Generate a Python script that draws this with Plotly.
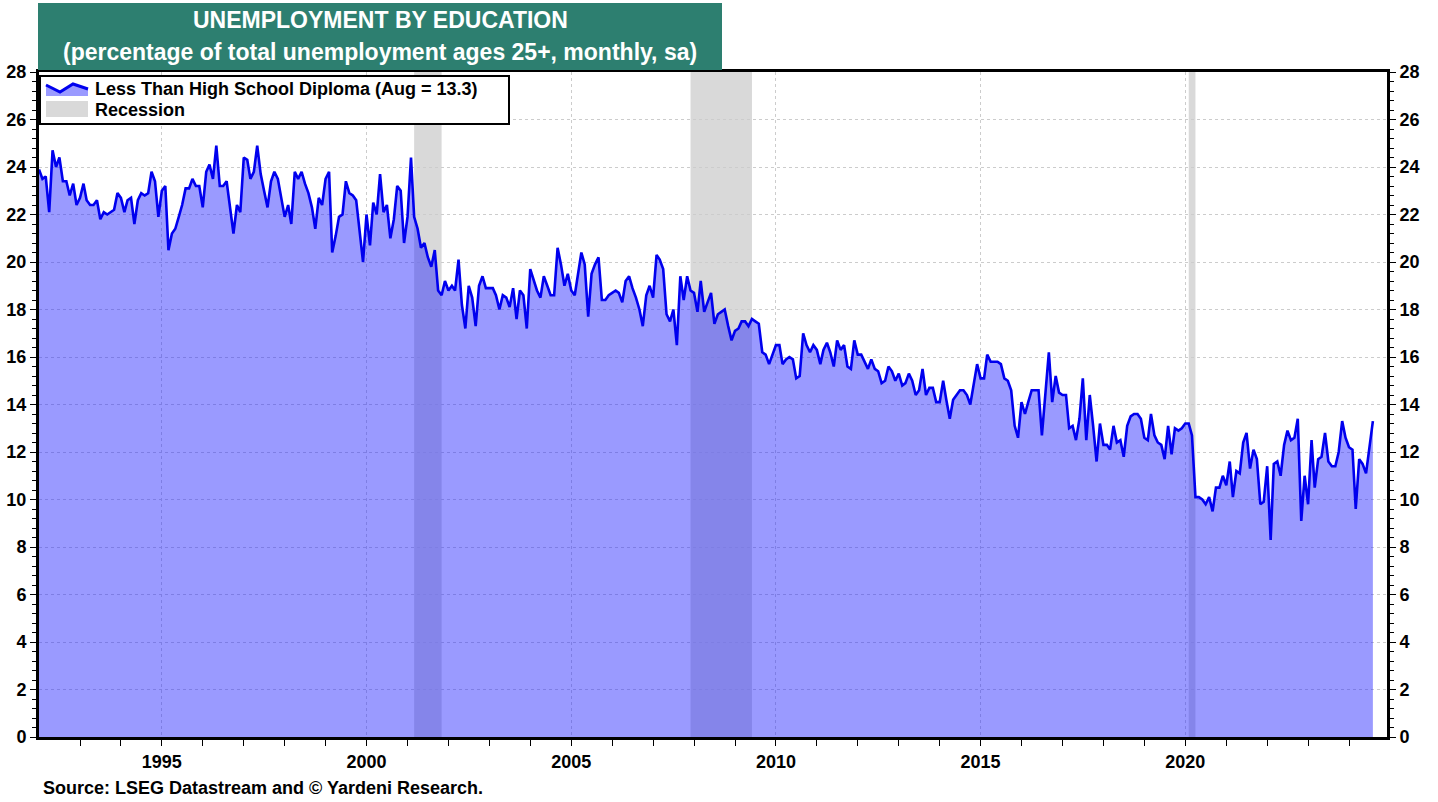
import pandas as pd
import plotly.graph_objects as go

# Less than high school diploma share of unemployment (%), monthly from Jan 1992 to Aug 2024
values = [
    23.9, 23.5, 23.6, 22.1, 24.7, 24.0, 24.4, 23.4, 23.4, 22.8,
    23.3, 22.4, 22.7, 23.3, 22.6, 22.4, 22.4, 22.6, 21.8, 22.1,
    22.0, 22.1, 22.2, 22.9, 22.7, 22.1, 22.6, 22.7, 21.6, 22.6,
    22.9, 22.8, 22.9, 23.8, 23.4, 21.9, 23.0, 23.2, 20.5, 21.2,
    21.4, 21.9, 22.4, 23.1, 23.1, 23.5, 23.2, 23.2, 22.3, 23.8,
    24.1,
    23.5, 24.9, 23.2, 23.2, 23.4, 22.2, 21.2, 22.4, 22.1, 24.4,
    24.3, 23.5, 23.8, 24.9, 23.7, 23.0, 22.3, 23.4, 23.8, 23.5,
    22.7, 21.9, 22.4, 21.6, 23.8, 23.5, 23.8, 23.3, 22.9, 22.3,
    21.4, 22.7, 22.4, 23.5, 23.8, 20.4, 21.1, 21.9, 22.0, 23.4,
    22.9, 22.8, 22.6, 21.4, 20.0, 22.0, 20.7, 22.5, 22.0, 23.7,
    22.1, 22.4, 21.0, 21.8, 23.2, 23.0, 20.8, 21.9, 24.4, 21.9,
    21.4, 20.6, 20.8, 20.2, 19.8, 20.5, 18.8, 18.6, 19.2, 18.8,
    19.0, 18.8, 20.1, 18.2, 17.2, 19.0, 18.5, 17.3, 19.0, 19.4,
    18.9, 18.9, 18.9, 18.6, 18.0, 18.6, 18.5, 18.1, 18.9, 17.6,
    18.8, 18.6, 17.2, 19.7, 19.2, 18.8, 18.5, 19.4,
    19.0, 18.6, 18.6, 20.6, 19.9, 19.0, 19.5, 18.8, 18.6, 19.4,
    20.4, 19.9, 17.7, 19.5, 19.9, 20.2, 18.4, 18.4, 18.6, 18.7,
    18.8, 18.7, 18.3, 19.2, 19.4, 18.9, 18.5, 18.0, 17.3, 18.6,
    19.0, 18.5, 20.3, 20.1, 19.7, 17.8, 17.5, 18.0, 16.5, 19.4,
    18.4, 19.4, 18.8, 18.7, 17.9, 19.2, 17.9, 18.3, 18.7,
    17.4, 17.8, 17.9, 18.0, 17.3, 16.7, 17.1, 17.2, 17.5, 17.5,
    17.3, 17.6, 17.5, 17.4, 16.2, 16.1, 15.7, 16.1, 16.5, 16.5,
    15.7, 15.9, 16.0, 15.9, 15.1, 15.2, 17.0, 16.5, 16.2, 16.5,
    16.3, 15.7, 16.3, 16.6, 16.2, 15.6, 16.7, 16.3, 16.5, 15.6,
    15.5, 16.7, 16.1, 16.1, 15.8, 15.5, 15.9, 15.5, 15.4, 14.9,
    15.0, 15.6, 15.4, 15.0, 15.3, 14.8, 14.9, 15.3, 15.0, 14.4,
    14.6, 15.5, 14.4, 14.7, 14.7, 14.1, 14.1, 15.0, 14.2, 13.4,
    14.2, 14.4, 14.6, 14.6, 14.4, 14.0, 14.8, 15.7, 15.1, 15.1,
    16.1, 15.8, 15.8, 15.8, 15.7, 15.1, 15.0, 14.6, 13.1, 12.6,
    14.1, 13.6, 14.1, 14.6, 14.6, 14.6, 12.7,
    14.3, 16.2, 14.1, 15.2, 14.5, 14.4, 14.4, 13.0, 13.1, 12.5,
    13.4, 15.1, 12.5, 14.4, 13.1, 11.6, 13.2, 12.3, 12.3, 12.1,
    13.1, 12.4, 12.5, 11.8, 13.1, 13.5, 13.6, 13.6, 13.4, 12.6,
    12.5, 13.6, 12.7, 12.4, 12.3, 11.7, 13.1, 11.9,
    13.0, 12.9, 13.0, 13.2, 13.2, 12.7, 10.1, 10.1, 10.0, 9.8,
    10.1, 9.5, 10.5, 10.5, 11.0, 10.6, 11.6, 10.1, 11.2, 11.1,
    12.4, 12.8, 11.3, 12.1, 11.7, 9.8, 9.9, 11.4, 8.3, 11.5,
    11.6, 11.0, 12.3, 12.9, 12.5, 12.6, 13.4, 9.1, 11.0, 9.8,
    12.5, 10.5, 11.7, 11.8, 12.8, 11.6, 11.4, 11.4, 12.0, 13.3,
    12.6, 12.2, 12.1, 9.6, 11.7, 11.5, 11.1, 12.2, 13.3,
]
start_month = "1992-01-01"
dates = pd.date_range(start_month, periods=len(values), freq="MS")

recession_starts = ["2001-03-01", "2007-12-01", "2020-02-01"]
recession_ends = ["2001-11-01", "2009-06-01", "2020-04-01"]

label_years = [1995, 2000, 2005, 2010, 2015, 2020]
minor_years = list(range(1993, 2025))
y_ticks = list(range(0, 29, 2))

series_name = "Less Than High School Diploma (Aug = 13.3)"
recession_name = "Recession"
title_line1 = "UNEMPLOYMENT BY EDUCATION"
title_line2 = "(percentage of total unemployment ages 25+, monthly, sa)"
source_text = "Source: LSEG Datastream and © Yardeni Research."

FONT = "Arial, 'Liberation Sans', sans-serif"
LINE_COLOR = "#0000EE"
FILL_COLOR = "rgba(30,30,255,0.45)"
REC_COLOR = "#D9D9D9"
tickfont = dict(family=FONT, size=18, color="black", weight="bold")

W, H = 1438, 802
ML, MR, MT, MB = 39, 51, 72, 65
PW, PH = W - ML - MR, H - MT - MB


def px(x):
    return (x - ML) / PW


def py(y):
    return (H - MB - y) / PH


fig = go.Figure()
fig.add_trace(go.Scatter(
    x=dates, y=values, mode="lines", name=series_name, showlegend=False,
    line=dict(color=LINE_COLOR, width=2.6),
    fill="tozeroy", fillcolor=FILL_COLOR,
))
fig.add_trace(go.Scatter(
    x=[dates[0]], y=[0], yaxis="y2", mode="markers",
    marker=dict(opacity=0), showlegend=False, hoverinfo="skip",
))

for s, e in zip(recession_starts, recession_ends):
    fig.add_vrect(x0=s, x1=e, fillcolor=REC_COLOR, line_width=0,
                  layer="below", opacity=1)

grid = dict(showgrid=True, gridcolor="#CCCCCC", griddash="dot", gridwidth=1)
minor_y = dict(dtick=0.4, tick0=0, ticks="outside", ticklen=4,
               tickwidth=1, tickcolor="black", showgrid=False)

fig.update_layout(
    width=W, height=H,
    margin=dict(l=ML, r=MR, t=MT, b=MB),
    paper_bgcolor="white", plot_bgcolor="white",
    font=dict(family=FONT, color="black"),
    showlegend=False,
    xaxis=dict(
        type="date", range=["1992-01-01", "2024-12-05"],
        tickvals=[f"{y}-01-01" for y in label_years],
        ticktext=[str(y) for y in label_years],
        ticks="outside", ticklen=6, tickwidth=1, tickcolor="black",
        tickfont=tickfont, automargin=False,
        showline=True, linewidth=3, linecolor="black", mirror=True,
        minor=dict(tickvals=[f"{y}-01-01" for y in minor_years],
                   ticks="outside", ticklen=6, tickwidth=1, tickcolor="black",
                   showgrid=False),
        zeroline=False, **grid,
    ),
    yaxis=dict(
        range=[0, 28], tickvals=y_ticks,
        ticks="outside", ticklen=6, tickwidth=1, tickcolor="black",
        tickfont=tickfont, automargin=False,
        showline=True, linewidth=3, linecolor="black",
        minor=minor_y, zeroline=False, **grid,
    ),
    yaxis2=dict(
        range=[0, 28], tickvals=y_ticks, overlaying="y", side="right",
        ticks="outside", ticklen=6, tickwidth=1, tickcolor="black",
        tickfont=tickfont, showgrid=False, automargin=False,
        showline=True, linewidth=3, linecolor="black",
        minor=minor_y, zeroline=False,
    ),
)

# Title box
fig.add_shape(type="rect", xref="paper", yref="paper",
              x0=px(38), x1=px(722), y0=py(70), y1=py(3),
              fillcolor="#2D7F70", line_width=0, layer="above")
title_font = dict(family=FONT, size=23, color="white", weight="bold")
fig.add_annotation(xref="paper", yref="paper", x=px(380), y=py(20),
                   text=title_line1, showarrow=False, font=title_font,
                   xanchor="center", yanchor="middle")
fig.add_annotation(xref="paper", yref="paper", x=px(380), y=py(52),
                   text=title_line2, showarrow=False, font=title_font,
                   xanchor="center", yanchor="middle")

# Legend box (drawn manually to match the compact original)
fig.add_shape(type="rect", xref="paper", yref="paper",
              x0=px(40), x1=px(509), y0=py(124), y1=py(76),
              fillcolor="white", line=dict(color="black", width=2), layer="above")
sym = [(46, 85), (60, 92), (73, 84), (88, 89)]
fill_path = "M " + " L ".join(f"{px(a)},{py(b)}" for a, b in sym) + \
    f" L {px(88)},{py(96)} L {px(46)},{py(96)} Z"
fig.add_shape(type="path", xref="paper", yref="paper", path=fill_path,
              fillcolor=FILL_COLOR, line=dict(width=0), layer="above")
line_path = "M " + " L ".join(f"{px(a)},{py(b)}" for a, b in sym)
fig.add_shape(type="path", xref="paper", yref="paper", path=line_path,
              line=dict(color=LINE_COLOR, width=3), layer="above")
fig.add_shape(type="rect", xref="paper", yref="paper",
              x0=px(46), x1=px(88), y0=py(117), y1=py(101),
              fillcolor=REC_COLOR, line_width=0, layer="above")
leg_font = dict(family=FONT, size=18, color="black", weight="bold")
fig.add_annotation(xref="paper", yref="paper", x=px(93), y=py(89),
                   text=series_name, showarrow=False, font=leg_font,
                   xanchor="left", yanchor="middle")
fig.add_annotation(xref="paper", yref="paper", x=px(93), y=py(110),
                   text=recession_name, showarrow=False, font=leg_font,
                   xanchor="left", yanchor="middle")

fig.add_annotation(xref="paper", yref="paper", x=px(41), y=py(788),
                   text=source_text, showarrow=False,
                   font=dict(family=FONT, size=18, color="black", weight="bold"),
                   xanchor="left", yanchor="middle")

fig.write_html(
    "out.html",
    config={"displayModeBar": False},
    post_script="document.body.style.margin='0';document.body.style.overflow='hidden';",
)
